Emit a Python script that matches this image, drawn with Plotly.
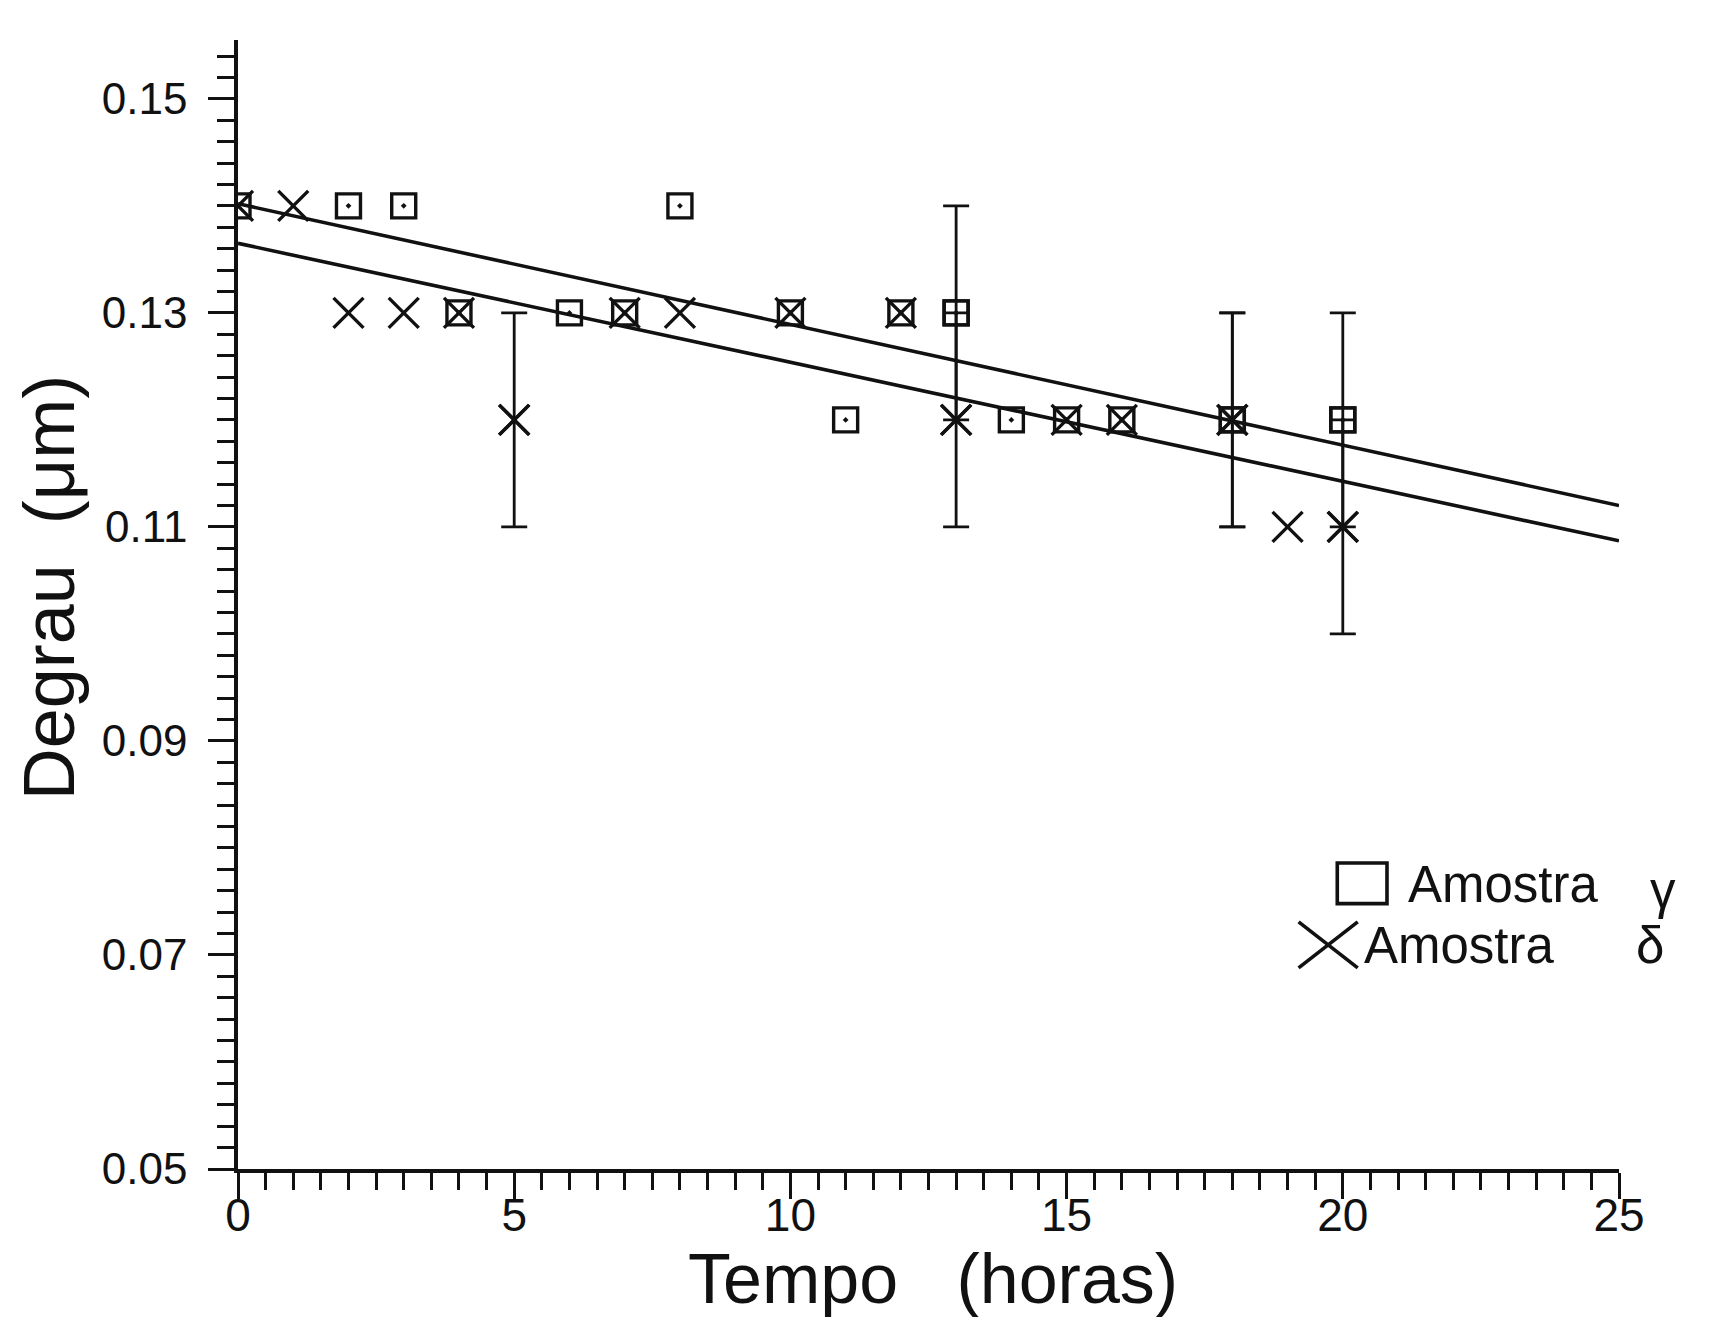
import plotly.graph_objects as go

# ---- data ----
gamma_x = [0, 2, 3, 4, 6, 7, 8, 10, 11, 12, 13, 14, 15, 16, 18, 20]
gamma_y = [0.14, 0.14, 0.14, 0.13, 0.13, 0.13, 0.14, 0.13, 0.12, 0.13, 0.13, 0.12, 0.12, 0.12, 0.12, 0.12]

delta_x = [0, 1, 2, 3, 4, 5, 7, 8, 10, 12, 13, 15, 16, 18, 19, 20]
delta_y = [0.14, 0.14, 0.13, 0.13, 0.13, 0.12, 0.13, 0.13, 0.13, 0.13, 0.12, 0.12, 0.12, 0.12, 0.11, 0.11]

gamma_err_x = [13, 18, 20]
delta_err_x = [5, 13, 18, 20]
err_size = 0.01

fit_x = [0, 25]
fit_gamma = [0.1402, 0.1120]
fit_delta = [0.1365, 0.1087]

x_ticks = [0, 5, 10, 15, 20, 25]
y_ticks = [0.05, 0.07, 0.09, 0.11, 0.13, 0.15]

legend_names = ["Amostra", "Amostra"]
legend_greek = ["γ", "δ"]

FONT = "Liberation Sans, Arial, sans-serif"
BLACK = "#111111"

gy = dict(zip(gamma_x, gamma_y))
dy = dict(zip(delta_x, delta_y))

fig = go.Figure()

# fitted lines
fig.add_trace(go.Scatter(x=fit_x, y=fit_gamma, mode="lines",
                         line=dict(color=BLACK, width=3.6), showlegend=False, hoverinfo="skip"))
fig.add_trace(go.Scatter(x=fit_x, y=fit_delta, mode="lines",
                         line=dict(color=BLACK, width=3.6), showlegend=False, hoverinfo="skip"))

sq_marker = dict(symbol="square-open-dot", size=24, color=BLACK, line=dict(color=BLACK, width=3.4))
x_marker = dict(symbol="x-thin-open", size=30, color=BLACK, line=dict(color=BLACK, width=3.4))

# error bars (only on points that have them)
fig.add_trace(go.Scatter(
    x=gamma_err_x, y=[gy[v] for v in gamma_err_x], mode="markers", marker=sq_marker,
    error_y=dict(type="constant", value=err_size, color=BLACK, thickness=2.8, width=13),
    showlegend=False, hoverinfo="skip"))
fig.add_trace(go.Scatter(
    x=delta_err_x, y=[dy[v] for v in delta_err_x], mode="markers", marker=x_marker,
    error_y=dict(type="constant", value=err_size, color=BLACK, thickness=2.8, width=13),
    showlegend=False, hoverinfo="skip"))

# data points
fig.add_trace(go.Scatter(x=gamma_x, y=gamma_y, mode="markers", marker=sq_marker,
                         name="Amostra γ", showlegend=False))
fig.add_trace(go.Scatter(x=delta_x, y=delta_y, mode="markers", marker=x_marker,
                         name="Amostra δ", showlegend=False))

# legend drawn inside the plot
fig.add_shape(type="rect", x0=19.9, x1=20.8, y0=0.0748, y1=0.0786,
              line=dict(color=BLACK, width=3.6), fillcolor="rgba(0,0,0,0)")
fig.add_shape(type="line", x0=19.2, x1=20.27, y0=0.0731, y1=0.0688, line=dict(color=BLACK, width=3.6))
fig.add_shape(type="line", x0=19.2, x1=20.27, y0=0.0688, y1=0.0731, line=dict(color=BLACK, width=3.6))
fig.add_annotation(x=21.15, y=0.0766, xref="x", yref="y", text=legend_names[0],
                   showarrow=False, xanchor="left", yanchor="middle",
                   font=dict(family=FONT, size=51, color=BLACK))
fig.add_annotation(x=1.032, y=0.0760, xref="paper", yref="y", text=legend_greek[0],
                   showarrow=False, xanchor="center", yanchor="middle",
                   font=dict(family=FONT, size=51, color=BLACK))
fig.add_annotation(x=20.35, y=0.0709, xref="x", yref="y", text=legend_names[1],
                   showarrow=False, xanchor="left", yanchor="middle",
                   font=dict(family=FONT, size=51, color=BLACK))
fig.add_annotation(x=1.0224, y=0.0709, xref="paper", yref="y", text=legend_greek[1],
                   showarrow=False, xanchor="center", yanchor="middle",
                   font=dict(family=FONT, size=51, color=BLACK))

# axis titles
fig.add_annotation(x=0.503, y=-0.097, xref="paper", yref="paper", text="Tempo   (horas)",
                   showarrow=False, xanchor="center", yanchor="middle",
                   font=dict(family=FONT, size=70, color=BLACK))
fig.add_annotation(x=-0.137, y=0.515, xref="paper", yref="paper", text="Degrau  (μm)",
                   showarrow=False, xanchor="center", yanchor="middle", textangle=-90,
                   font=dict(family=FONT, size=72, color=BLACK))

fig.update_xaxes(
    range=[0, 25], tickvals=x_ticks, ticktext=[str(v) for v in x_ticks],
    showline=True, linecolor=BLACK, linewidth=3.5, mirror=False,
    showgrid=False, zeroline=False,
    ticks="outside", ticklen=26, tickwidth=3, tickcolor=BLACK,
    ticklabelstandoff=-23,
    tickfont=dict(family=FONT, size=46, color=BLACK),
    minor=dict(dtick=0.5, ticks="outside", ticklen=17, tickwidth=2.5, tickcolor=BLACK, showgrid=False),
)
fig.update_yaxes(
    range=[0.05, 0.1555], tickvals=y_ticks, ticktext=[f"{v:.2f}" for v in y_ticks],
    showline=True, linecolor=BLACK, linewidth=3.5, mirror=False,
    showgrid=False, zeroline=False,
    ticks="outside", ticklen=26, tickwidth=3, tickcolor=BLACK,
    ticklabelstandoff=12,
    tickfont=dict(family=FONT, size=44, color=BLACK),
    minor=dict(dtick=0.002, tick0=0.05, ticks="outside", ticklen=17, tickwidth=2.5, tickcolor=BLACK, showgrid=False),
)

fig.update_layout(
    width=1725, height=1317,
    margin=dict(l=230, r=114, t=32, b=156),
    plot_bgcolor="white", paper_bgcolor="white",
    showlegend=False,
)

fig.write_html("out.html")
